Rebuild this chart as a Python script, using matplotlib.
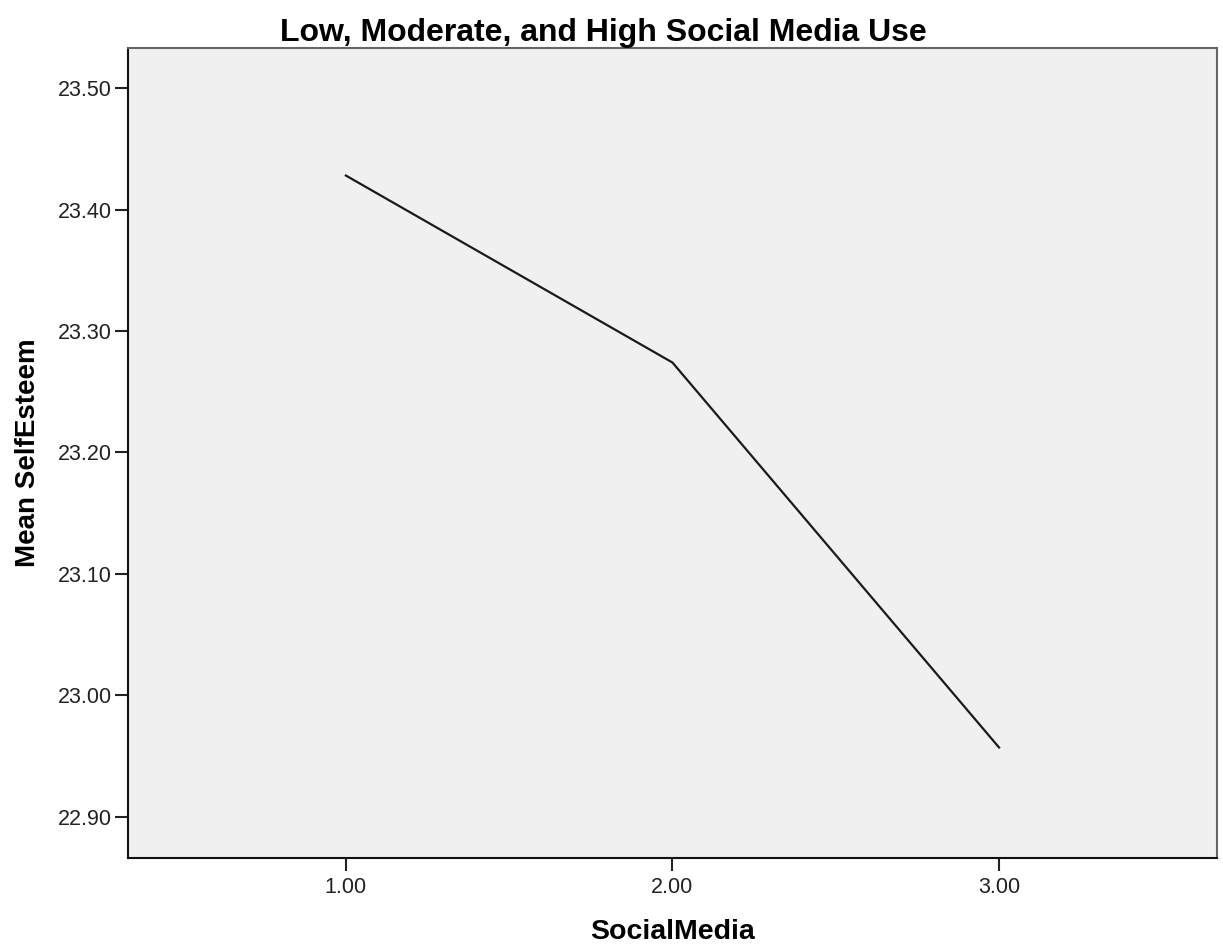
import matplotlib
matplotlib.use('Agg')
import matplotlib.pyplot as plt

# Средние значения самооценки по группам использования соцсетей
social_media = [1.0, 2.0, 3.0]
mean_self_esteem = [23.428, 23.274, 22.957]
y_ticks = [22.90, 23.00, 23.10, 23.20, 23.30, 23.40, 23.50]
x_ticks = [1.0, 2.0, 3.0]

plt.rcParams['font.family'] = ['Liberation Sans', 'DejaVu Sans']

fig = plt.figure(figsize=(12.23, 9.51), dpi=100)
ax = fig.add_axes([0.1047, 0.0978, 0.8903, 0.8517])
ax.set_facecolor('#f0f0f0')

ax.plot(social_media, mean_self_esteem, color='#1a1a1a', linewidth=1.6)

ax.set_xlim(0.333, 3.667)
ax.set_ylim(22.866, 23.533)
ax.set_xticks(x_ticks)
ax.set_xticklabels([f'{v:.2f}' for v in x_ticks])
ax.set_yticks(y_ticks)
ax.set_yticklabels([f'{v:.2f}' for v in y_ticks])
ax.tick_params(axis='both', direction='out', length=9.5, width=1.5,
               labelsize=15.5, labelcolor='#222222', color='#222222')
ax.tick_params(axis='y', pad=2)
ax.tick_params(axis='x', pad=4)

for side in ['left', 'bottom']:
    ax.spines[side].set_color('#111111')
    ax.spines[side].set_linewidth(1.5)
for side in ['top', 'right']:
    ax.spines[side].set_color('#666666')
    ax.spines[side].set_linewidth(1.5)

ax.set_title('Low, Moderate, and High Social Media Use', fontsize=23,
             fontweight='bold', x=0.437, pad=0.5)
ax.set_xlabel('SocialMedia', fontsize=20.5, fontweight='bold')
ax.set_ylabel('Mean SelfEsteem', fontsize=20, fontweight='bold')
ax.xaxis.set_label_coords(0.5, -0.075)
ax.yaxis.set_label_coords(-0.08, 0.5)

fig.savefig('out.png', dpi=100)
